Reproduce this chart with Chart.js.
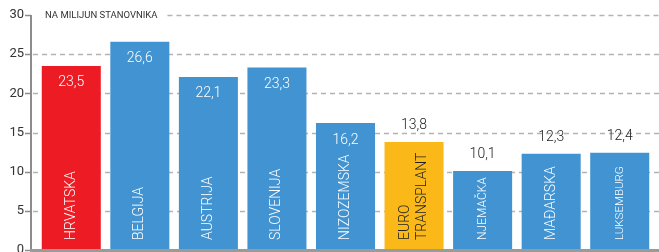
<!DOCTYPE html>
<html>
<head>
<meta charset="utf-8">
<script src="https://cdn.jsdelivr.net/npm/chart.js@4.4.1/dist/chart.umd.min.js"></script>
<style>
  body { margin: 0; background: #fff; }
  canvas { display: block; }
</style>
</head>
<body>
<canvas id="chart" width="659" height="252"></canvas>
<script>
var countries = ["HRVATSKA", "BELGIJA", "AUSTRIJA", "SLOVENIJA", "NIZOZEMSKA", ["EURO", "TRANSPLANT"], "NJEMAČKA", "MAĐARSKA", "LUKSEMBURG"];
var perMillion = [23.5, 26.6, 22.1, 23.3, 16.2, 13.8, 10.1, 12.3, 12.4];
var barColors = ["#ed1c24", "#4193d2", "#4193d2", "#4193d2", "#4193d2", "#fbb919", "#4193d2", "#4193d2", "#4193d2"];
var labelSizes = [14, 14, 14, 14, 14, 14, 12, 14, 11.5];
var unitNote = "NA MILIJUN STANOVNIKA";

var FONT = "Roboto, 'DejaVu Sans', sans-serif";

var decor = {
  id: "decor",
  beforeDatasetsDraw: function(chart) {
    var ctx = chart.ctx, area = chart.chartArea, y = chart.scales.y;
    var ax = area.left - 6;
    ctx.save();
    ctx.font = "9.5px " + FONT;
    var noteW = ctx.measureText(unitNote).width;
    y.ticks.forEach(function(t) {
      var py = Math.round(y.getPixelForValue(t.value)) + 0.5;
      ctx.setLineDash([]);
      ctx.strokeStyle = "#8c8c8c";
      ctx.lineWidth = 1.5;
      ctx.beginPath();
      ctx.moveTo(ax - 6, py);
      ctx.lineTo(ax, py);
      ctx.stroke();
      if (t.value === 0) return;
      var start = ax + 2;
      if (t.value === y.max) start = 45 + noteW + 10;
      ctx.setLineDash([5, 4]);
      ctx.strokeStyle = "#b3b3b3";
      ctx.beginPath();
      ctx.moveTo(start, py);
      ctx.lineTo(chart.width, py);
      ctx.stroke();
    });
    ctx.setLineDash([]);
    ctx.fillStyle = "#333";
    ctx.textBaseline = "middle";
    ctx.textAlign = "left";
    ctx.fillText(unitNote, 45, y.getPixelForValue(y.max) + 0.5);
    ctx.restore();
  },
  afterDatasetsDraw: function(chart) {
    var ctx = chart.ctx, area = chart.chartArea;
    var ax = area.left - 6;
    var meta = chart.getDatasetMeta(0);
    ctx.save();
    // axes
    ctx.strokeStyle = "#8c8c8c";
    ctx.lineWidth = 2;
    ctx.beginPath();
    ctx.moveTo(ax, area.top);
    ctx.lineTo(ax, area.bottom);
    ctx.stroke();
    ctx.strokeStyle = "#9a9a9a";
    ctx.lineWidth = 3;
    ctx.beginPath();
    ctx.moveTo(ax - 1, area.bottom + 0.5);
    ctx.lineTo(chart.width, area.bottom + 0.5);
    ctx.stroke();

    meta.data.forEach(function(bar, i) {
      var v = perMillion[i];
      var inside = v > 15;
      var dark = barColors[i] === "#fbb919";
      // value labels
      ctx.font = "300 14px " + FONT;
      ctx.textAlign = "center";
      ctx.textBaseline = "middle";
      ctx.fillStyle = inside ? "#fff" : "#222";
      ctx.fillText(v.toFixed(1).replace(".", ","), bar.x, inside ? bar.y + 17 : bar.y - 16);
      // category labels, rotated
      var lines = [].concat(countries[i]);
      ctx.save();
      ctx.translate(bar.x, area.bottom - 10);
      ctx.rotate(-Math.PI / 2);
      ctx.font = "300 " + labelSizes[i] + "px " + FONT;
      ctx.textAlign = "left";
      ctx.fillStyle = dark ? "#222" : "#fff";
      lines.forEach(function(l, k) {
        var off = (k - (lines.length - 1) / 2) * 17;
        ctx.fillText(l, 0, off);
      });
      ctx.restore();
    });
    ctx.restore();
  }
};

new Chart(document.getElementById("chart"), {
  type: "bar",
  data: {
    labels: countries,
    datasets: [{
      data: perMillion,
      backgroundColor: barColors,
      borderWidth: 0,
      categoryPercentage: 1,
      barPercentage: 0.861
    }]
  },
  options: {
    responsive: false,
    animation: false,
    layout: { padding: { top: 15, bottom: 2, right: 5, left: 0 } },
    plugins: { legend: { display: false }, tooltip: { enabled: false } },
    scales: {
      x: { display: false },
      y: {
        min: 0,
        max: 30,
        ticks: { stepSize: 5, color: "#333", font: { family: FONT, size: 13 }, padding: 13 },
        grid: { display: false, drawTicks: false },
        border: { display: false },
        afterFit: function(s) {
          s.width = 37;
          s.paddingTop = 0;
          s.paddingBottom = 0;
        }
      }
    }
  },
  plugins: [decor]
});
</script>
</body>
</html>
